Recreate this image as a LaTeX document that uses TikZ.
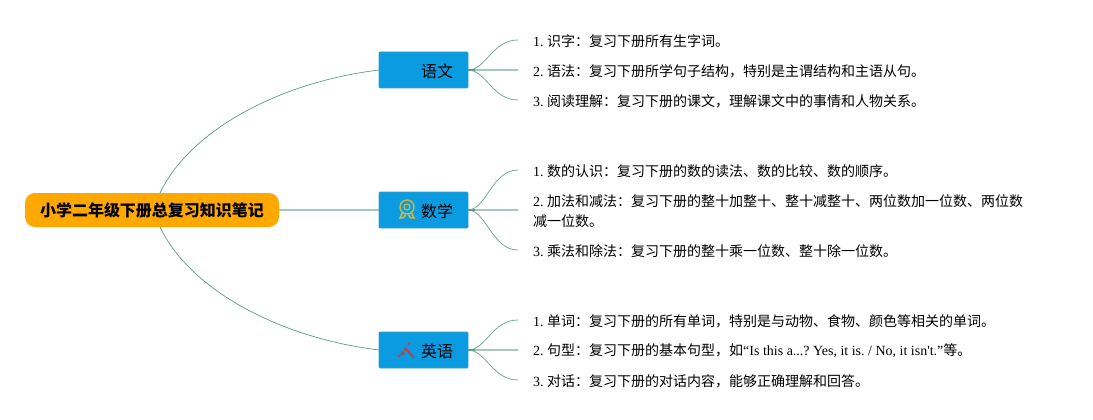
\documentclass[tikz,border=0pt]{standalone}
\usepackage{fontspec}
\setmainfont{Liberation Serif}
\newfontfamily\plainlatin{Liberation Serif}
\newfontfamily\cjk{Noto Sans CJK SC}
\newcommand{\zh}[1]{{\cjk #1}}
\definecolor{linkc}{HTML}{5F9A8A}
\definecolor{softlink}{HTML}{A6C9BE}
\definecolor{rootc}{HTML}{FFA800}
\definecolor{boxc}{HTML}{0A9BE0}
\definecolor{boxe}{HTML}{3AA0B8}
\definecolor{medal}{HTML}{C8B848}
\definecolor{tools}{HTML}{B8404A}
\tikzset{
 rootbox/.style={draw=none,fill=rootc,rounded corners=10pt,minimum width=254pt,minimum height=34pt,inner sep=0pt,font=\fontsize{16}{16}\selectfont\cjk\bfseries},
 branch/.style={draw=boxe,line width=0.8pt,fill=boxc,rounded corners=1pt,minimum width=89pt,minimum height=36pt,inner sep=0pt},
 blabel/.style={font=\fontsize{16}{16}\selectfont\cjk,inner sep=0pt,anchor=west},
 leaf/.style={font=\fontsize{14}{14}\selectfont\frenchspacing,inner sep=0pt,anchor=west},
 link/.style={draw=linkc,line width=0.7pt},
 softline/.style={draw=softlink,line width=1.5pt},
 curve link/.style={draw=linkc!85,line width=0.8pt},
 stub/.style={draw=linkc,line width=1.6pt},
}
\begin{document}
\begin{tikzpicture}[x=1pt,y=-1pt]
\useasboundingbox (0,0) rectangle (1093,420);
\coordinate (a1) at (518,40);\coordinate (a2) at (518,70);\coordinate (a3) at (518,100);
\coordinate (b1) at (518,170);\coordinate (b2) at (518,210);\coordinate (b3) at (518,250);
\coordinate (c1) at (518,320);\coordinate (c2) at (518,350);\coordinate (c3) at (518,380);
\coordinate (yw) at (379,70);\coordinate (yy) at (379,350);
\coordinate (ru) at (160,193);\coordinate (rd) at (160,227);
\path[link] (ru) .. controls (190,130) and (280,82) .. (yw);
\path[link] (rd) .. controls (190,290) and (280,338) .. (yy);
\coordinate (se) at (279,210);\coordinate (sw) at (379,210);
\path[softline] (se) -- (sw);
\coordinate (ye) at (468,70);\coordinate (se2) at (468,210);\coordinate (ee) at (468,350);
\foreach \s/\y/\p/\q/\r/\dy in {ye/70/a1/a2/a3/30,se2/210/b1/b2/b3/40,ee/350/c1/c2/c3/30}{
 \path[softline] (\s) -- (\q);
 \path[curve link] (\s) .. controls (486,\y) and (492,\y-\dy) .. (\p);
 \path[curve link] (\s) .. controls (486,\y) and (492,\y+\dy) .. (\r);
 \path[stub] (\s) -- ++(7,0);
}
\node[rootbox] (root) at (152,210) {小学二年级下册总复习知识笔记};
\node[branch] (ywb) at (423.5,70) {};
\node[branch] (sxb) at (423.5,210) {};
\node[branch] (yyb) at (423.5,350) {};
\node[blabel] (ywt) at (421,71) {语文};
\node[blabel] (sxt) at (421,211) {数学};
\node[blabel] (yyt) at (421,351) {英语};
% medal icon
\begin{scope}[shift={(407,207)}]
\draw[draw=medal,line width=1.4pt] (0,0) circle (7pt);
\draw[draw=medal,line width=1.2pt] (0,0) circle (3pt);
\draw[draw=medal,line width=1.6pt] (-4.5,5.5) -- (-7,11) -- (-3,10.5) -- (-1.5,7.5);
\draw[draw=medal,line width=1.6pt] (4.5,5.5) -- (7,11) -- (3,10.5) -- (1.5,7.5);
\end{scope}
% tools icon
\begin{scope}[shift={(406.5,350)}]
\draw[draw=tools,line width=2pt] (-1.5,-2) -- (7.5,8);
\draw[draw=tools,line width=2pt,dash pattern=on 3pt off 1.5pt] (-8.5,7) -- (-1.5,0);
\draw[draw=tools,line width=1.6pt] (1.5,-5) -- (3.5,-8);
\fill[tools] (-4,3.5) circle (2pt);
\end{scope}
\node[leaf] (l1) at (533,41) {1. \zh{识字：复习下册所有生字词。}};
\node[leaf] (l2) at (533,71) {2. \zh{语法：复习下册所学句子结构，特别是主谓结构和主语从句。}};
\node[leaf] (l3) at (533,101) {3. \zh{阅读理解：复习下册的课文，理解课文中的事情和人物关系。}};
\node[leaf] (l4) at (533,171) {1. \zh{数的认识：复习下册的数的读法、数的比较、数的顺序。}};
\node[leaf] (l5) at (533,201) {2. \zh{加法和减法：复习下册的整十加整十、整十减整十、两位数加一位数、两位数}};
\node[leaf] (l5b) at (533,221) {\zh{减一位数。}};
\node[leaf] (l6) at (533,251) {3. \zh{乘法和除法：复习下册的整十乘一位数、整十除一位数。}};
\node[leaf] (l7) at (533,321) {1. \zh{单词：复习下册的所有单词，特别是与动物、食物、颜色等相关的单词。}};
\node[leaf] (l8) at (533,351) {2. \zh{句型：复习下册的基本句型，如}{\plainlatin “Is this a...? Yes, it is. / No, it isn't.”}\zh{等。}};
\node[leaf] (l9) at (533,381) {3. \zh{对话：复习下册的对话内容，能够正确理解和回答。}};
\end{tikzpicture}
\end{document}
